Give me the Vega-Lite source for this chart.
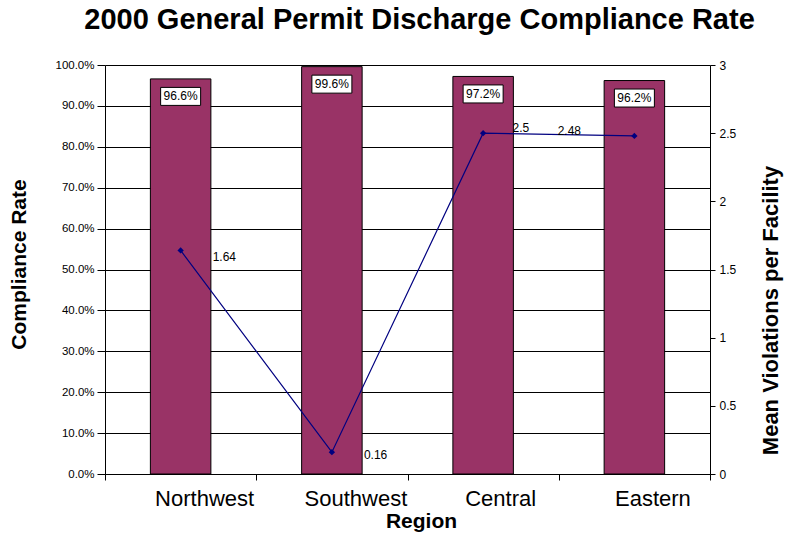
{
  "$schema": "https://vega.github.io/schema/vega-lite/v6.json",
  "width": 605,
  "height": 409,
  "autosize": "none",
  "padding": {"left": 105, "top": 65, "right": 78, "bottom": 59},
  "background": "white",
  "config": {
    "font": "Liberation Sans",
    "view": {"stroke": null},
    "axis": {"labelColor": "black", "titleColor": "black", "domainColor": "black", "tickColor": "black", "labelFont": "Liberation Sans", "titleFont": "Liberation Sans"}
  },
  "title": {
    "text": "2000 General Permit Discharge Compliance Rate",
    "fontSize": 29,
    "fontWeight": "bold",
    "color": "black",
    "anchor": "middle",
    "frame": "group",
    "dx": 12,
    "baseline": "alphabetic",
    "offset": 1
  },
  "data": {
    "values": [
      {"region": "Northwest", "rate": 0.966, "violations": 1.64},
      {"region": "Southwest", "rate": 0.996, "violations": 0.16},
      {"region": "Central", "rate": 0.972, "violations": 2.5},
      {"region": "Eastern", "rate": 0.962, "violations": 2.48}
    ]
  },
  "layer": [
    {
      "encoding": {
        "x": {
          "field": "region", "type": "nominal", "sort": null,
          "scale": {"paddingInner": 0, "paddingOuter": 0},
          "axis": {
            "title": "Region", "labelAngle": 0, "tickBand": "extent", "tickSize": 6,
            "labelFontSize": 22, "labelBaseline": "alphabetic", "labelPadding": 25,
            "labelOffset": {"condition": [{"test": "datum.value === 'Central'", "value": 17}, {"test": "datum.value === 'Eastern'", "value": 18}], "value": 23.5},
            "titleFontSize": 21, "titleFontWeight": "bold", "titleX": 316, "titleY": 53,
            "titleBaseline": "alphabetic", "titleAlign": "center"
          }
        },
        "y": {
          "field": "rate", "type": "quantitative",
          "scale": {"domain": [0, 1], "nice": false, "zero": true},
          "axis": {
            "title": "Compliance Rate",
            "values": [0, 0.1, 0.2, 0.3, 0.4, 0.5, 0.6, 0.7, 0.8, 0.9, 1],
            "format": ".1%", "grid": true, "gridColor": "black", "gridOpacity": 1, "gridWidth": 1,
            "tickSize": 8, "labelPadding": 3, "labelFontSize": 11.5,
            "titleFontSize": 21, "titleFontWeight": "bold", "titleX": -80, "titleY": 199,
            "titleBaseline": "alphabetic", "titleAlign": "center", "titleAngle": 270
          }
        }
      },
      "layer": [
        {"mark": {"type": "bar", "width": {"band": 0.4}, "fill": "#993366", "stroke": "black", "strokeWidth": 1}},
        {"mark": {"type": "point", "shape": "M-1,-0.45H1V0.45H-1Z", "size": 1600, "filled": true, "fill": "white", "stroke": "black", "strokeWidth": 1, "opacity": 1, "yOffset": 17.5}},
        {"mark": {"type": "text", "fontSize": 12, "color": "black", "baseline": "middle", "align": "center", "yOffset": 17.5}, "encoding": {"text": {"field": "rate", "type": "quantitative", "format": ".1%"}}}
      ]
    },
    {
      "encoding": {
        "x": {"field": "region", "type": "nominal", "sort": null},
        "y": {
          "field": "violations", "type": "quantitative",
          "scale": {"domain": [0, 3], "nice": false},
          "axis": {
            "orient": "right", "title": "Mean Violations per Facility",
            "values": [0, 0.5, 1, 1.5, 2, 2.5, 3], "format": "~g", "grid": false,
            "tickSize": 5, "labelPadding": 4, "labelFontSize": 12,
            "titleFontSize": 22, "titleFontWeight": "bold", "titleX": 67, "titleY": 245,
            "titleBaseline": "alphabetic", "titleAlign": "center", "titleAngle": 270
          }
        }
      },
      "layer": [
        {"mark": {"type": "line", "color": "#000080", "strokeWidth": 1.2, "point": {"shape": "diamond", "size": 40, "filled": true, "color": "#000080", "opacity": 1}}},
        {"transform": [{"filter": "datum.region === 'Northwest'"}], "mark": {"type": "text", "fontSize": 12, "color": "black", "align": "left", "baseline": "middle", "dx": 32, "dy": 6.5}, "encoding": {"text": {"field": "violations", "type": "quantitative", "format": "~g"}}},
        {"transform": [{"filter": "datum.region === 'Southwest'"}], "mark": {"type": "text", "fontSize": 12, "color": "black", "align": "left", "baseline": "middle", "dx": 32, "dy": 2.6}, "encoding": {"text": {"field": "violations", "type": "quantitative", "format": "~g"}}},
        {"transform": [{"filter": "datum.region === 'Central'"}], "mark": {"type": "text", "fontSize": 12, "color": "black", "align": "left", "baseline": "middle", "dx": 29.4, "dy": -5.4}, "encoding": {"text": {"field": "violations", "type": "quantitative", "format": "~g"}}},
        {"transform": [{"filter": "datum.region === 'Eastern'"}], "mark": {"type": "text", "fontSize": 12, "color": "black", "align": "left", "baseline": "middle", "dx": -76.7, "dy": -4.6}, "encoding": {"text": {"field": "violations", "type": "quantitative", "format": "~g"}}}
      ]
    }
  ],
  "resolve": {"scale": {"y": "independent"}}
}
